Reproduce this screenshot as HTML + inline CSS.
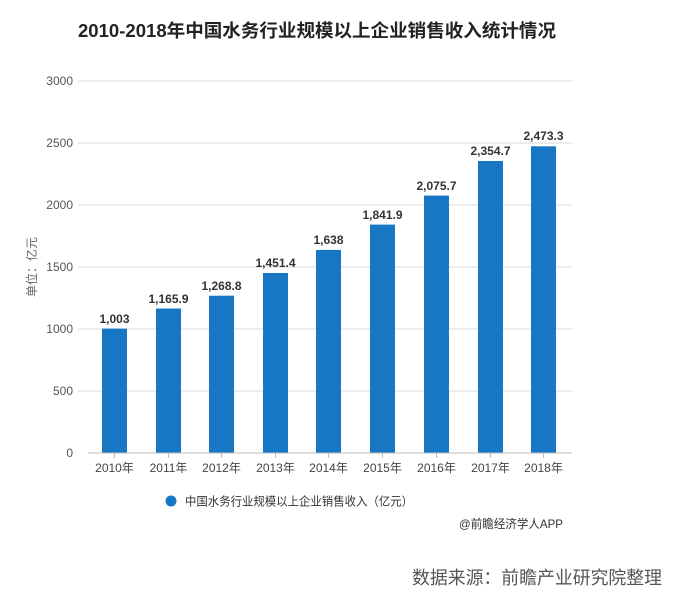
<!DOCTYPE html>
<html><head><meta charset="utf-8"><style>
html,body{margin:0;padding:0;background:#fff;}
svg{display:block;font-family:"Liberation Sans","Noto Sans CJK SC",sans-serif;}
</style></head><body>
<svg width="688" height="603" viewBox="0 0 688 603" xmlns="http://www.w3.org/2000/svg">
<text x="317" y="37" text-anchor="middle" font-size="18" font-weight="bold" fill="#222" textLength="478" lengthAdjust="spacingAndGlyphs">2010-2018年中国水务行业规模以上企业销售收入统计情况</text>
<g stroke="#d9d9d9" stroke-width="1">
<line x1="78" x2="572" y1="81" y2="81"/>
<line x1="78" x2="572" y1="143" y2="143"/>
<line x1="78" x2="572" y1="205" y2="205"/>
<line x1="78" x2="572" y1="267" y2="267"/>
<line x1="78" x2="572" y1="329" y2="329"/>
<line x1="78" x2="572" y1="391" y2="391"/>
</g>
<g font-size="12" fill="#555" text-anchor="end">
<text x="73" y="85">3000</text><text x="73" y="147">2500</text><text x="73" y="209">2000</text>
<text x="73" y="271">1500</text><text x="73" y="333">1000</text><text x="73" y="395">500</text><text x="73" y="457">0</text>
</g>
<text transform="translate(36,267) rotate(-90)" text-anchor="middle" font-size="12" fill="#666">单位：亿元</text>
<g fill="#1777c4">
<rect x="102" y="328.6" width="25" height="124.4"/>
<rect x="156" y="308.5" width="25" height="144.5"/>
<rect x="209" y="295.7" width="25" height="157.3"/>
<rect x="263" y="273.0" width="25" height="180.0"/>
<rect x="316" y="249.9" width="25" height="203.1"/>
<rect x="370" y="224.6" width="25" height="228.4"/>
<rect x="424" y="195.6" width="25" height="257.4"/>
<rect x="478" y="161.0" width="25" height="292.0"/>
<rect x="531" y="146.3" width="25" height="306.7"/>
</g>
<line x1="88" x2="572" y1="453" y2="453" stroke="#bbb"/>
<g stroke="#bbb">
<line x1="114.5" x2="114.5" y1="453" y2="458"/><line x1="168.5" x2="168.5" y1="453" y2="458"/>
<line x1="221.5" x2="221.5" y1="453" y2="458"/><line x1="275.5" x2="275.5" y1="453" y2="458"/>
<line x1="328.5" x2="328.5" y1="453" y2="458"/><line x1="382.5" x2="382.5" y1="453" y2="458"/>
<line x1="436.5" x2="436.5" y1="453" y2="458"/><line x1="490.5" x2="490.5" y1="453" y2="458"/>
<line x1="543.5" x2="543.5" y1="453" y2="458"/>
</g>
<g font-size="12" fill="#444" text-anchor="middle">
<text x="114.5" y="472">2010年</text><text x="168.5" y="472">2011年</text><text x="221.5" y="472">2012年</text>
<text x="275.5" y="472">2013年</text><text x="328.5" y="472">2014年</text><text x="382.5" y="472">2015年</text>
<text x="436.5" y="472">2016年</text><text x="490.5" y="472">2017年</text><text x="543.5" y="472">2018年</text>
</g>
<g font-size="12" font-weight="bold" fill="#333" text-anchor="middle">
<text x="114.5" y="323">1,003</text><text x="168.5" y="303">1,165.9</text><text x="221.5" y="290">1,268.8</text>
<text x="275.5" y="267">1,451.4</text><text x="328.5" y="244">1,638</text><text x="382.5" y="219">1,841.9</text>
<text x="436.5" y="190">2,075.7</text><text x="490.5" y="155">2,354.7</text><text x="543.5" y="140">2,473.3</text>
</g>
<circle cx="171" cy="501" r="5.5" fill="#1777c4"/>
<text x="185" y="505.5" font-size="12" fill="#333" textLength="228" lengthAdjust="spacingAndGlyphs">中国水务行业规模以上企业销售收入（亿元）</text>
<text x="459" y="528" font-size="12" fill="#333" textLength="104" lengthAdjust="spacingAndGlyphs">@前瞻经济学人APP</text>
<text x="412" y="584" font-size="18" fill="#555" textLength="250" lengthAdjust="spacingAndGlyphs">数据来源：前瞻产业研究院整理</text>
</svg>
</body></html>
